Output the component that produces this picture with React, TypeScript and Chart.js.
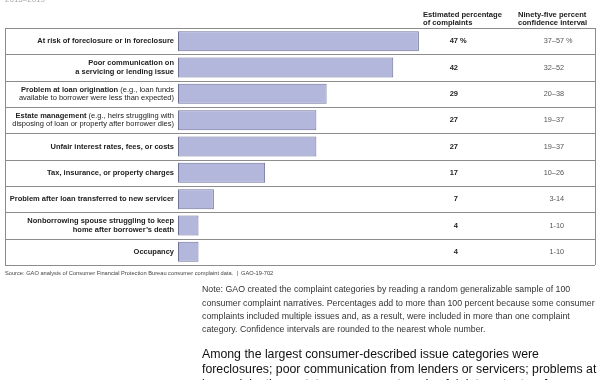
import React, { useEffect, useRef } from "react";
import { Chart, registerables } from "chart.js";

Chart.register(...registerables);

const categories = [
  "At risk of foreclosure or in foreclosure",
  "Poor communication on a servicing or lending issue",
  "Problem at loan origination",
  "Estate management",
  "Unfair interest rates, fees, or costs",
  "Tax, insurance, or property charges",
  "Problem after loan transferred to new servicer",
  "Nonborrowing spouse struggling to keep home after borrower’s death",
  "Occupancy",
];

// [bold part, normal part] per printed line
const labelLines: [string, string][][] = [
  [["At risk of foreclosure or in foreclosure", ""]],
  [["Poor communication on", ""], ["a servicing or lending issue", ""]],
  [["Problem at loan origination", " (e.g., loan funds"], ["", "available to borrower were less than expected)"]],
  [["Estate management", " (e.g., heirs struggling with"], ["", "disposing of loan or property after borrower dies)"]],
  [["Unfair interest rates, fees, or costs", ""]],
  [["Tax, insurance, or property charges", ""]],
  [["Problem after loan transferred to new servicer", ""]],
  [["Nonborrowing spouse struggling to keep", ""], ["home after borrower’s death", ""]],
  [["Occupancy", ""]],
];

const values = [47, 42, 29, 27, 27, 17, 7, 4, 4];
const ciLabels = ["37–57", "32–52", "20–38", "19–37", "19–37", "10–26", "3-14", "1-10", "1-10"];

const headerValue = ["Estimated percentage", "of complaints"];
const headerCI = ["Ninety-five percent", "confidence interval"];
const topText = "2015–2019";
const sourceText = "Source: GAO analysis of Consumer Financial Protection Bureau consumer complaint data.  |  GAO-19-702";
const noteLines = [
  "Note: GAO created the complaint categories by reading a random generalizable sample of 100",
  "consumer complaint narratives. Percentages add to more than 100 percent because some consumer",
  "complaints included multiple issues and, as a result, were included in more than one complaint",
  "category. Confidence intervals are rounded to the nearest whole number.",
];
const bodyLines = [
  "Among the largest consumer-described issue categories were",
  "foreclosures; poor communication from lenders or servicers; problems at",
  "loan origination; estate management; and unfair interest rates, fees, or costs",
];

const FONT = "'Liberation Sans', Arial, Helvetica, sans-serif";

const tablePlugin = {
  id: "tablePlugin",
  beforeDraw(chart: any) {
    const ctx = chart.ctx;
    ctx.save();
    ctx.fillStyle = "#ffffff";
    ctx.fillRect(0, 0, chart.width, chart.height);
    ctx.restore();
  },
  beforeDatasetsDraw(chart: any) {
    const ctx = chart.ctx;
    const area = chart.chartArea;
    const y = chart.scales.y;
    const n = categories.length;
    const rowH = (area.bottom - area.top) / n;
    const left = 5;
    const right = 595;
    ctx.save();
    ctx.strokeStyle = "#8c8c8c";
    ctx.lineWidth = 1;
    for (let i = 0; i <= n; i++) {
      const yy = Math.round(area.top + i * rowH) + 0.5;
      ctx.beginPath();
      ctx.moveTo(left, yy);
      ctx.lineTo(right, yy);
      ctx.stroke();
    }
    ctx.beginPath();
    ctx.moveTo(left + 0.5, area.top);
    ctx.lineTo(left + 0.5, area.bottom);
    ctx.moveTo(right + 0.5, area.top);
    ctx.lineTo(right + 0.5, area.bottom);
    ctx.stroke();

    ctx.fillStyle = "#222";
    ctx.font = `bold 7.6px ${FONT}`;
    ctx.textAlign = "left";
    ctx.textBaseline = "middle";
    headerValue.forEach((t, i) => ctx.fillText(t, 423, 15 + i * 8));
    headerCI.forEach((t, i) => ctx.fillText(t, 518, 15 + i * 8));

    ctx.fillStyle = "#aaa";
    ctx.font = `8px ${FONT}`;
    ctx.textBaseline = "alphabetic";
    ctx.fillText(topText, 5, 2);

    for (let i = 0; i < n; i++) {
      const cy = y.getPixelForValue(i);
      const lines = labelLines[i];
      const lh = 8.2;
      const start = cy - ((lines.length - 1) * lh) / 2;
      ctx.textBaseline = "middle";
      lines.forEach(([b, nrm], j) => {
        const ly = start + j * lh;
        const xr = 174;
        ctx.font = `7.5px ${FONT}`;
        const wN = nrm ? ctx.measureText(nrm).width : 0;
        ctx.fillStyle = "#222";
        ctx.textAlign = "right";
        if (nrm) ctx.fillText(nrm, xr, ly);
        if (b) {
          ctx.font = `bold 7.5px ${FONT}`;
          ctx.fillText(b, xr - wN, ly);
        }
      });
      ctx.font = `bold 7.5px ${FONT}`;
      ctx.fillStyle = "#222";
      ctx.textAlign = "right";
      ctx.fillText(String(values[i]), 458, cy);
      if (i === 0) {
        ctx.textAlign = "left";
        ctx.fillText(" %", 458, cy);
      }
      ctx.font = `7.3px ${FONT}`;
      ctx.fillStyle = "#555";
      ctx.textAlign = "right";
      ctx.fillText(ciLabels[i], 564, cy);
      if (i === 0) {
        ctx.textAlign = "left";
        ctx.fillText(" %", 564, cy);
      }
    }
    ctx.restore();
  },
  afterDraw(chart: any) {
    const ctx = chart.ctx;
    ctx.save();
    ctx.textAlign = "left";
    ctx.textBaseline = "middle";
    ctx.fillStyle = "#444";
    ctx.font = `5.7px ${FONT}`;
    ctx.fillText(sourceText, 5, 273);
    ctx.fillStyle = "#333";
    ctx.font = `8.8px ${FONT}`;
    noteLines.forEach((t, i) => ctx.fillText(t, 202, 290 + i * 13.3));
    ctx.fillStyle = "#111";
    ctx.font = `12.3px ${FONT}`;
    bodyLines.forEach((t, i) => ctx.fillText(t, 202, 355 + i * 15));
    ctx.restore();
  },
};

export default function App() {
  const ref = useRef<HTMLCanvasElement | null>(null);
  useEffect(() => {
    if (!ref.current) return;
    const chart = new Chart(ref.current, {
      type: "bar",
      data: {
        labels: categories,
        datasets: [
          {
            data: values,
            backgroundColor: "#b4b7dc",
            borderColor: "#6f7299",
            borderWidth: 1,
            borderSkipped: false,
            barPercentage: 0.76,
            categoryPercentage: 1,
          },
        ],
      },
      options: {
        indexAxis: "y",
        responsive: false,
        animation: false,
        devicePixelRatio: 1,
        layout: { padding: { left: 178, right: 12, top: 28, bottom: 115 } },
        plugins: { legend: { display: false }, tooltip: { enabled: false } },
        scales: {
          x: { display: false, min: 0, max: 80 },
          y: { display: false },
        },
      },
      plugins: [tablePlugin],
    });
    return () => chart.destroy();
  }, []);
  return (
    <div style={{ position: "absolute", left: 0, top: 0, width: 600, height: 380 }}>
      <canvas ref={ref} width={600} height={380} style={{ display: "block" }} />
    </div>
  );
}
